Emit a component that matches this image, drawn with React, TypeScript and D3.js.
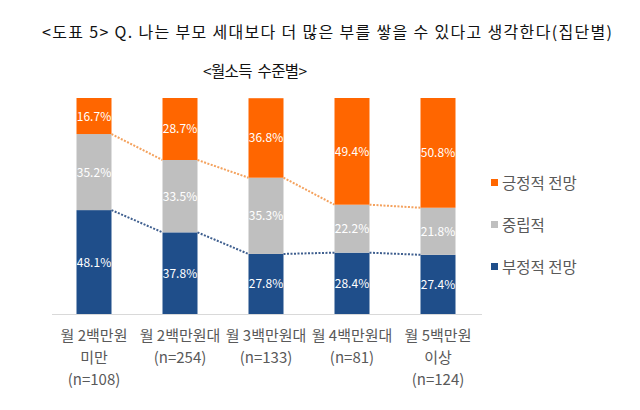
import React from "react";
import * as d3 from "d3";

const categories = ["g1", "g2", "g3", "g4", "g5"];
const labelLines = [
  ["월 2백만원", "미만", "(n=108)"],
  ["월 2백만원대", "(n=254)"],
  ["월 3백만원대", "(n=133)"],
  ["월 4백만원대", "(n=81)"],
  ["월 5백만원", "이상", "(n=124)"],
];
const negative = [48.1, 37.8, 27.8, 28.4, 27.4];
const neutral = [35.2, 33.5, 35.3, 22.2, 21.8];
const positive = [16.7, 28.7, 36.8, 49.4, 50.8];
const seriesNames = ["긍정적 전망", "중립적", "부정적 전망"];

const COLORS = { pos: "#FF6600", neu: "#BFBFBF", neg: "#1F4E8A" };
const FONT = "'Noto Sans CJK KR', 'Noto Sans', sans-serif";

export default function App() {
  const W = 640, H = 410;
  const x = d3.scalePoint<string>().domain(categories).range([51, 481]).padding(0.5);
  const y = d3.scaleLinear().domain([0, 100]).range([314, 98]);
  const bw = 35;

  const rows = categories.map((c, i) => ({ c, neg: negative[i], neu: neutral[i], pos: positive[i] }));
  const stack = d3.stack<any>().keys(["neg", "neu", "pos"])(rows);
  const colorOf: Record<string, string> = COLORS as any;

  const lineFor = (top: (i: number) => number) => {
    const segs: JSX.Element[] = [];
    for (let i = 0; i < categories.length - 1; i++) {
      const x1 = (x(categories[i]) as number) + bw / 2;
      const x2 = (x(categories[i + 1]) as number) - bw / 2;
      segs.push(
        <line key={i} x1={x1} x2={x2} y1={y(top(i))} y2={y(top(i + 1))} />
      );
    }
    return segs;
  };

  return (
    <svg width={W} height={H} style={{ display: "block", position: "absolute", left: 0, top: 0, background: "#fff" }}>
      <text x={42} y={38} fontFamily={FONT} fontSize={16} fill="#111" textLength={570} lengthAdjust="spacing">
        {"<도표 5> Q. 나는 부모 세대보다 더 많은 부를 쌓을 수 있다고 생각한다(집단별)"}
      </text>
      <text x={203} y={77} fontFamily={FONT} fontSize={15.5} fill="#111" textLength={104} lengthAdjust="spacing">
        {"<월소득\u00A0 수준별>"}
      </text>

      <line x1={52} x2={482} y1={314.5} y2={314.5} stroke="#D9D9D9" strokeWidth={1} />

      {stack.map((s) => (
        <g key={s.key} fill={colorOf[s.key]}>
          {s.map((d, i) => (
            <rect key={i} x={(x(categories[i]) as number) - bw / 2} width={bw} y={y(d[1])} height={y(d[0]) - y(d[1])} />
          ))}
        </g>
      ))}

      <g stroke="#F4A25E" strokeWidth={2} strokeDasharray="2,1.5">
        {lineFor((i) => negative[i] + neutral[i])}
      </g>
      <g stroke="#3F5F8F" strokeWidth={2} strokeDasharray="2,1.5">
        {lineFor((i) => negative[i])}
      </g>

      {stack.map((s) => (
        <g key={"l" + s.key} fill="#fff" fontFamily={FONT} fontSize={12} textAnchor="middle">
          {s.map((d, i) => (
            <text key={i} x={x(categories[i]) as number} y={(y(d[0]) + y(d[1])) / 2 + 4.5}>
              {(d[1] - d[0]).toFixed(1)}%
            </text>
          ))}
        </g>
      ))}

      {labelLines.map((lines, i) => (
        <text key={i} x={x(categories[i]) as number} textAnchor="middle" fontFamily={FONT} fontSize={15} fill="#595959">
          {lines.map((l, j) => (
            <tspan key={j} x={x(categories[i]) as number} y={341 + j * 22}>{l}</tspan>
          ))}
        </text>
      ))}

      {seriesNames.map((n, i) => (
        <g key={n}>
          <rect x={491} y={179 + i * 42} width={7} height={7} fill={[COLORS.pos, COLORS.neu, COLORS.neg][i]} />
          <text x={502} y={189 + i * 42} fontFamily={FONT} fontSize={15.5} fill="#595959">{n}</text>
        </g>
      ))}
    </svg>
  );
}
